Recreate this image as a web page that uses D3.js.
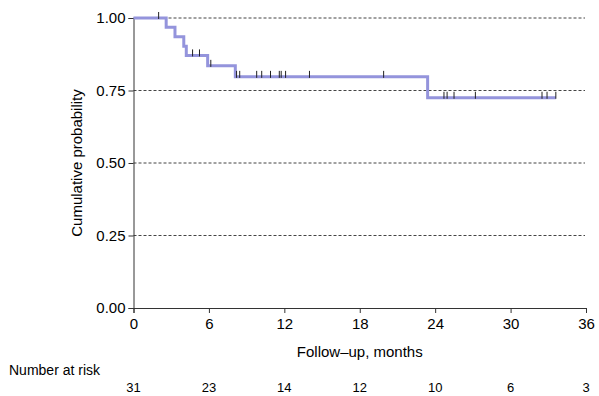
<!DOCTYPE html>
<html>
<head>
<meta charset="utf-8">
<script src="https://cdn.jsdelivr.net/npm/d3@7"></script>
<style>
  body { margin: 0; background: #fff; }
  svg { display: block; font-family: "Liberation Sans", Arial, sans-serif; }
</style>
</head>
<body>
<svg id="chart" width="599" height="396"></svg>
<script>
// Kaplan-Meier data
const eventTimes = [2.6, 3.3, 4.0, 4.2, 5.9, 8.1, 23.4];
const survivalAfter = [0.968, 0.935, 0.903, 0.871, 0.835, 0.797, 0.725];
const censorTimes = [2.0, 4.7, 5.25, 6.15, 8.2, 8.45, 9.8, 10.2, 10.9, 11.6, 11.75, 12.1, 14.0, 19.9, 24.7, 24.95, 25.5, 27.2, 32.5, 32.9, 33.6];
const lastTime = 33.6;
const xTicks = [0, 6, 12, 18, 24, 30, 36];
const yTicks = [0, 0.25, 0.5, 0.75, 1.0];
const gridValues = [0.25, 0.5, 0.75, 1.0];
const riskTimes = [0, 6, 12, 18, 24, 30, 36];
const riskCounts = [31, 23, 14, 12, 10, 6, 3];

const svg = d3.select("#chart");
const x = d3.scaleLinear().domain([0, 36]).range([133.5, 586]);
const y = d3.scaleLinear().domain([0, 1]).range([308, 18]);

function survAt(t) {
  let s = 1;
  eventTimes.forEach((e, i) => { if (e <= t) s = survivalAfter[i]; });
  return s;
}

// grid lines
svg.append("g").selectAll("line").data(gridValues).join("line")
  .attr("x1", x(0)).attr("x2", 585)
  .attr("y1", d => y(d)).attr("y2", d => y(d))
  .attr("stroke", "#444").attr("stroke-width", 1)
  .attr("stroke-dasharray", "3,2");

// axes
const xAxis = d3.axisBottom(x).tickValues(xTicks).tickFormat(d3.format("d")).tickSize(5).tickPadding(5);
const gx = svg.append("g").attr("transform", "translate(0,308)").call(xAxis);
gx.select(".domain").attr("stroke", "#333");
gx.selectAll(".tick line").attr("stroke", "#333");
gx.selectAll("text").attr("font-size", 15).attr("fill", "#000").attr("font-family", "Liberation Sans, Arial, sans-serif");

const yAxis = d3.axisLeft(y).tickValues(yTicks).tickFormat(d3.format(".2f")).tickSize(5).tickPadding(3);
const gy = svg.append("g").attr("transform", "translate(133.5,0)").call(yAxis);
gy.select(".domain").attr("stroke", "#333");
gy.selectAll(".tick line").attr("stroke", "#333");
gy.selectAll("text").attr("font-size", 15).attr("fill", "#000").attr("font-family", "Liberation Sans, Arial, sans-serif");

// KM step line
const pts = [[0, 1]];
eventTimes.forEach((t, i) => pts.push([t, survivalAfter[i]]));
pts.push([lastTime, survivalAfter[survivalAfter.length - 1]]);
svg.append("path")
  .datum(pts)
  .attr("fill", "none")
  .attr("stroke", "#9494dc")
  .attr("stroke-width", 3)
  .attr("d", d3.line().x(d => x(d[0])).y(d => y(d[1])).curve(d3.curveStepAfter));

// censor marks
svg.append("g").selectAll("line").data(censorTimes).join("line")
  .attr("x1", d => x(d)).attr("x2", d => x(d))
  .attr("y1", d => y(survAt(d)) - 6).attr("y2", d => y(survAt(d)) + 1)
  .attr("stroke", "#222").attr("stroke-width", 1);

// axis titles
svg.append("text").attr("x", x(18)).attr("y", 357).attr("text-anchor", "middle")
  .attr("font-size", 15).text("Follow\u2013up, months");
svg.append("text").attr("transform", "translate(82,163) rotate(-90)").attr("text-anchor", "middle")
  .attr("font-size", 15).text("Cumulative probability");

// number at risk
svg.append("text").attr("x", 9).attr("y", 375).attr("font-size", 14).text("Number at risk");
svg.append("g").selectAll("text").data(riskTimes).join("text")
  .attr("x", (d) => x(d)).attr("y", 392).attr("text-anchor", "middle")
  .attr("font-size", 13)
  .text((d, i) => riskCounts[i]);
</script>
</body>
</html>
